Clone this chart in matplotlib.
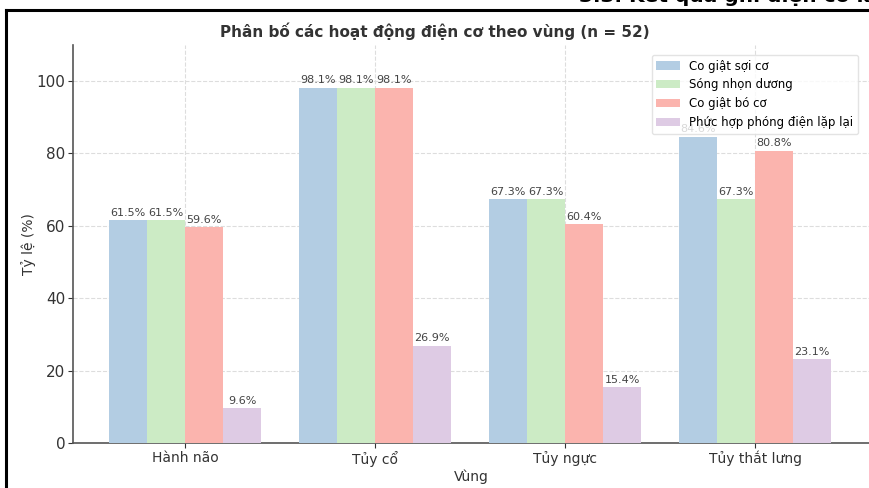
import numpy as np
import matplotlib.pyplot as plt
from matplotlib.lines import Line2D


# ------------------------------------------------------
# Data
# ------------------------------------------------------

regions = ["Hành não", "Tủy cổ", "Tủy ngực", "Tủy thắt lưng"]

series_names = [
    "Co giật sợi cơ",
    "Sóng nhọn dương",
    "Co giật bó cơ",
    "Phức hợp phóng điện lặp lại",
]

co_giat_soi_co = [61.5, 98.1, 67.3, 84.6]
song_nhon_duong = [61.5, 98.1, 67.3, 67.3]
co_giat_bo_co = [59.6, 98.1, 60.4, 80.8]
phuc_hop = [9.6, 26.9, 15.4, 23.1]

colors = ["#b3cde3", "#ccebc5", "#fbb4ae", "#decbe4"]


# ------------------------------------------------------
# Figure
# ------------------------------------------------------

fig = plt.figure(figsize=(8.69, 4.88), dpi=100)

ax = fig.add_axes([0.084, 0.092, 0.916, 0.816])

x = np.arange(len(regions))
width = 0.2

all_series = [co_giat_soi_co, song_nhon_duong, co_giat_bo_co, phuc_hop]

for i, values in enumerate(all_series):

    bars = ax.bar(
        x + (i - 1.5) * width,
        values,
        width,
        color=colors[i],
        label=series_names[i],
        zorder=3
    )

    ax.bar_label(
        bars,
        labels=[f"{v:.1f}%" for v in values],
        padding=2,
        fontsize=8,
        color="#444444"
    )

ax.set_xlim(-0.59, 3.6)
ax.set_ylim(0, 110)

ax.set_xticks(x)
ax.set_xticklabels(regions, fontsize=10)
ax.tick_params(axis="y", labelsize=11, pad=2)
ax.tick_params(axis="x", pad=2)
ax.tick_params(colors="#333333")

ax.set_xlabel("Vùng", fontsize=10, color="#333333", labelpad=2)
ax.set_ylabel("Tỷ lệ (%)", fontsize=10, color="#333333", labelpad=0)

ax.set_title(
    "Phân bố các hoạt động điện cơ theo vùng (n = 52)",
    fontsize=11,
    fontweight="bold",
    color="#333333",
    x=0.455,
    pad=6
)

ax.grid(True, linestyle="--", color="#dddddd", linewidth=0.8, zorder=0)

ax.spines["top"].set_visible(False)
ax.spines["right"].set_visible(False)
ax.spines["left"].set_color("#555555")
ax.spines["bottom"].set_color("#555555")
ax.spines["left"].set_linewidth(1.2)
ax.spines["bottom"].set_linewidth(1.2)

ax.legend(
    loc="upper right",
    bbox_to_anchor=(0.994, 0.99),
    fontsize=8.5,
    frameon=True,
    edgecolor="#dddddd"
)

# page frame and heading cropped at the top
fig.add_artist(Line2D([0.007, 0.007], [0, 0.979], color="black", lw=2.2,
                      transform=fig.transFigure))
fig.add_artist(Line2D([0.007, 1.0], [0.979, 0.979], color="black", lw=2.2,
                      transform=fig.transFigure))

fig.text(
    0.666,
    0.995,
    "3.3. Kết quả ghi điện cơ kh",
    fontsize=14.5,
    fontweight="bold",
    color="black",
    va="baseline",
    ha="left"
)

fig.savefig("out.png", dpi=100)
